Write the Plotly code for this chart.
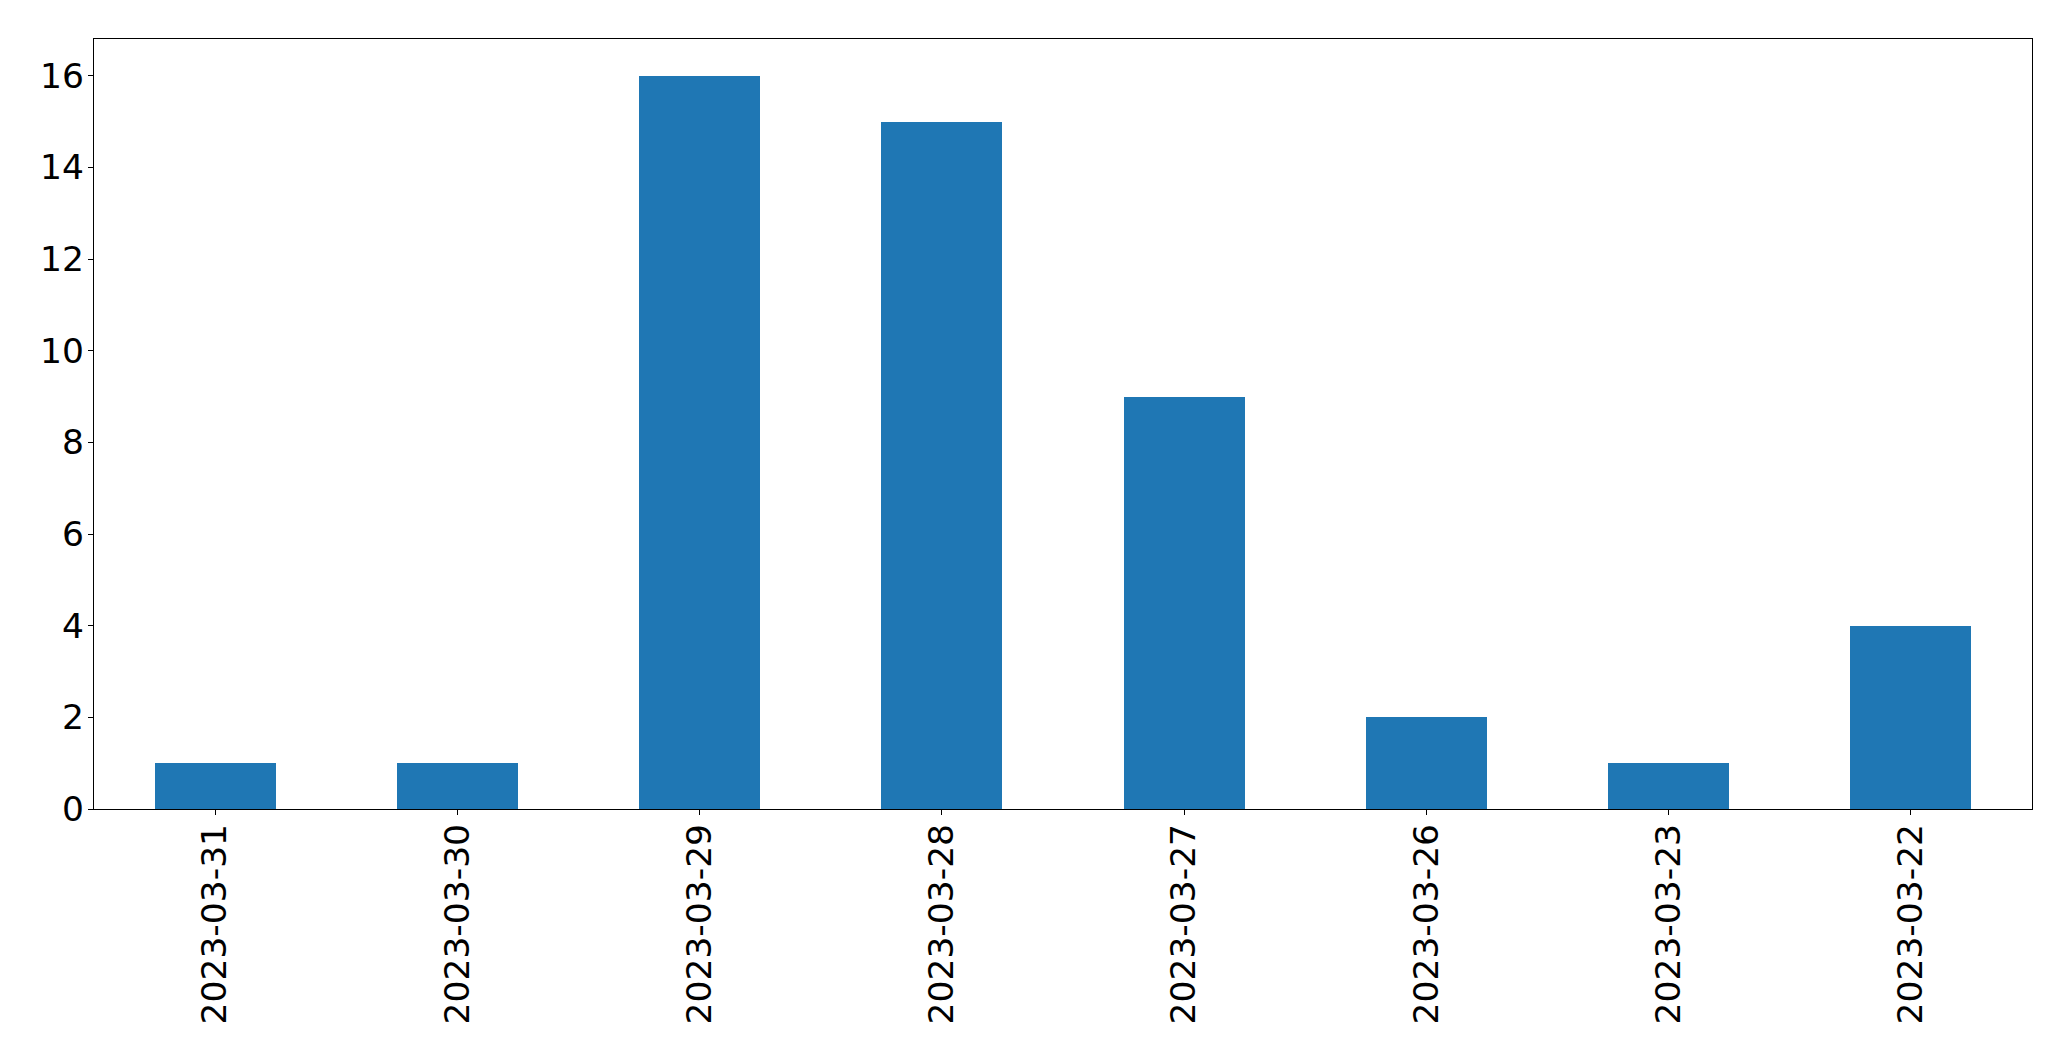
import plotly.graph_objects as go

dates = ["2023-03-31", "2023-03-30", "2023-03-29", "2023-03-28",
         "2023-03-27", "2023-03-26", "2023-03-23", "2023-03-22"]
counts = [1, 1, 16, 15, 9, 2, 1, 4]
y_ticks = [0, 2, 4, 6, 8, 10, 12, 14, 16]

fig = go.Figure(go.Bar(
    x=dates, y=counts, width=0.5,
    marker=dict(color="#1f77b4", line=dict(width=0)),
))

font = dict(family="DejaVu Sans", size=34.5, color="black")

# page body has an 8px margin, so the figure is offset by 8px
fig.update_layout(
    width=2055, height=1045,
    margin=dict(l=86, r=31, t=31, b=244, pad=0),
    paper_bgcolor="white", plot_bgcolor="white",
    showlegend=False,
    font=font,
    bargap=0,
)
fig.update_xaxes(
    type="category", range=[-0.5, 7.5],
    showline=True, linecolor="black", linewidth=1.3, mirror=True,
    ticks="outside", ticklen=5, tickwidth=1.3, tickcolor="black",
    tickangle=-90, tickfont=font, showgrid=False, zeroline=False,
    ticklabelstandoff=-5,
)
fig.update_yaxes(
    range=[0, 16.8], tickvals=y_ticks,
    showline=True, linecolor="black", linewidth=1.3, mirror=True,
    ticks="outside", ticklen=5, tickwidth=1.3, tickcolor="black",
    tickfont=font, showgrid=False, zeroline=False,
    ticklabelstandoff=-3,
)

fig.write_html("out.html")
